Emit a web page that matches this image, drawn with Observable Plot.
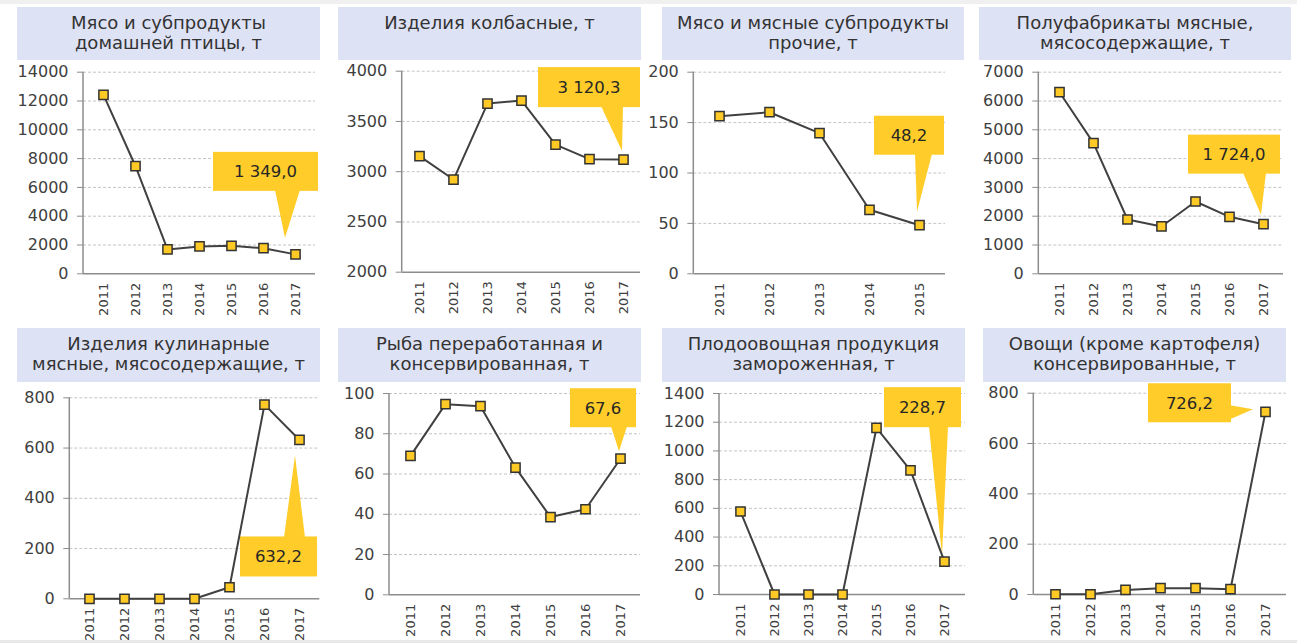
<!DOCTYPE html>
<html><head><meta charset="utf-8">
<script src="https://cdn.jsdelivr.net/npm/d3@7"></script>
<script src="https://cdn.jsdelivr.net/npm/@observablehq/plot@0.6"></script>
<style>
html,body{margin:0;padding:0;background:#fff;}
#root{position:relative;width:1297px;height:643px;overflow:hidden;background:#fff;font-family:"DejaVu Sans",sans-serif;}
.title{position:absolute;background:#dee2f5;color:#333;text-align:center;font-size:18px;line-height:20px;padding-top:6px;box-sizing:border-box;white-space:nowrap;}
.panel{position:absolute;overflow:visible;}
#root svg{overflow:visible;}
#root svg text{fill:#404040;}
#root svg text.callout{fill:#262626;}
</style></head><body><div id="root"></div>
<script>
// ---- data ----
const years7 = ["2011","2012","2013","2014","2015","2016","2017"];
const years5 = ["2011","2012","2013","2014","2015"];

const poultry      = [12430, 7470, 1690, 1900, 1940, 1780, 1349.0];
const sausages     = [3155, 2922, 3678, 3708, 3270, 3125, 3120.3];
const otherMeat    = [156.4, 160.3, 139.5, 63.5, 48.2];
const semiFinished = [6306, 4536, 1886, 1643, 2511, 1979, 1724.0];
const culinary     = [0, 0, 0, 0, 46, 773, 632.2];
const fish         = [69.0, 94.7, 93.7, 63.2, 38.6, 42.5, 67.6];
const frozenVeg    = [578, 0, 0, 0, 1161, 864, 228.7];
const vegCanned    = [1, 1, 18, 25, 25, 21, 726.2];

const ticksPoultry  = [0, 2000, 4000, 6000, 8000, 10000, 12000, 14000];
const ticksSausages = [2000, 2500, 3000, 3500, 4000];
const ticksOther    = [0, 50, 100, 150, 200];
const ticksSemi     = [0, 1000, 2000, 3000, 4000, 5000, 6000, 7000];
const ticksCulinary = [0, 200, 400, 600, 800];
const ticksFish     = [0, 20, 40, 60, 80, 100];
const ticksFrozen   = [0, 200, 400, 600, 800, 1000, 1200, 1400];
const ticksVeg      = [0, 200, 400, 600, 800];

const titles = [
  ["Мясо и субпродукты", "домашней птицы, т"],
  ["Изделия колбасные, т"],
  ["Мясо и мясные субпродукты", "прочие, т"],
  ["Полуфабрикаты мясные,", "мясосодержащие, т"],
  ["Изделия кулинарные", "мясные, мясосодержащие, т"],
  ["Рыба переработанная и", "консервированная, т"],
  ["Плодоовощная продукция", "замороженная, т"],
  ["Овощи (кроме картофеля)", "консервированные, т"]
];
const calloutLabels = ["1 349,0", "3 120,3", "48,2", "1 724,0", "632,2", "67,6", "228,7", "726,2"];

// ---- layout / style (pixels) ----
const series = [
  {years: years7, values: poultry,      ticks: ticksPoultry},
  {years: years7, values: sausages,     ticks: ticksSausages},
  {years: years5, values: otherMeat,    ticks: ticksOther},
  {years: years7, values: semiFinished, ticks: ticksSemi},
  {years: years7, values: culinary,     ticks: ticksCulinary},
  {years: years7, values: fish,         ticks: ticksFish},
  {years: years7, values: frozenVeg,    ticks: ticksFrozen},
  {years: years7, values: vegCanned,    ticks: ticksVeg}
];
const titleBoxes = [
  {l:17, t:7, w:303, h:53}, {l:338, t:7, w:303, h:53}, {l:662, t:7, w:302, h:53}, {l:979, t:7, w:312, h:53},
  {l:17, t:328, w:303, h:54}, {l:338, t:328, w:303, h:54}, {l:662, t:328, w:303, h:54}, {l:983, t:328, w:303, h:54}
];
const frames = [
  {l:83, r:315, t:71.7, b:273.3, pad:0.56}, {l:401.7, r:640, t:70.7, b:271.7, pad:0.48},
  {l:693.3, r:945, t:71.7, b:273.3, pad:0.5}, {l:1038.3, r:1283, t:71.7, b:273.3, pad:0.56},
  {l:69.3, r:319.3, t:397.3, b:598.3, pad:0.5}, {l:389, r:640, t:393, b:594.3, pad:0.5},
  {l:719, r:965, t:393, b:594, pad:0.6}, {l:1033.3, r:1286, t:392.7, b:594, pad:0.54}
];
const cols = [[0,325],[325,325],[650,325],[975,322]];
const rows = [[62,262],[380,263]];
const callGeo = [
  {bx:[-82,23], by:[-102,-63], side:"bottom", base:[-20,5], tip:[-10,-16]},
  {bx:[-85,17], by:[-92,-52], side:"bottom", base:[-22,0], tip:[-1,-8]},
  {bx:[-45,25], by:[-109,-70], side:"bottom", base:[-4,13], tip:[-2,-13]},
  {bx:[-75,17], by:[-89,-50], side:"bottom", base:[-20,3], tip:[-2,-9]},
  {bx:[-59,18], by:[97,137], side:"top", base:[-15,6], tip:[-4,16]},
  {bx:[-50,16], by:[-70,-31], side:"bottom", base:[-9,7], tip:[-1,-7]},
  {bx:[-60,17], by:[-174,-134], side:"bottom", base:[-15,4], tip:[-2,-6]},
  {bx:[-117,-34], by:[-28,11], side:"right", base:[-6,8], tip:[-12,-2]}
];
const YELLOW = "#ffcc29";

function leftAxisLine() {
  return (index, scales, values, dims) => {
    const g = d3.create("svg:g");
    g.append("line")
      .attr("x1", dims.marginLeft).attr("x2", dims.marginLeft)
      .attr("y1", dims.marginTop).attr("y2", dims.height - dims.marginBottom)
      .attr("stroke", "#8c8c8c").attr("stroke-width", 1.5);
    return g.node();
  };
}

function callout(years, vals, label, geo) {
  return (index, scales) => {
    const px = scales.x(years[years.length - 1]);
    const py = scales.y(vals[vals.length - 1]);
    const g = d3.create("svg:g");
    const x0 = px + geo.bx[0], x1 = px + geo.bx[1], y0 = py + geo.by[0], y1 = py + geo.by[1];
    g.append("rect").attr("x", x0).attr("y", y0).attr("width", x1 - x0).attr("height", y1 - y0).attr("fill", YELLOW);
    let pts;
    if (geo.side === "bottom") pts = [[px + geo.base[0], y1 - 1], [px + geo.base[1], y1 - 1], [px + geo.tip[0], py + geo.tip[1]]];
    else if (geo.side === "top") pts = [[px + geo.base[0], y0 + 1], [px + geo.base[1], y0 + 1], [px + geo.tip[0], py + geo.tip[1]]];
    else pts = [[x1 - 1, py + geo.base[0]], [x1 - 1, py + geo.base[1]], [px + geo.tip[0], py + geo.tip[1]]];
    g.append("path").attr("d", "M" + pts.map(p => p.join(",")).join("L") + "Z").attr("fill", YELLOW);
    g.append("text").attr("class", "callout")
      .attr("x", (x0 + x1) / 2).attr("y", (y0 + y1) / 2).attr("dy", "0.36em")
      .attr("text-anchor", "middle").attr("font-size", "16.5px").attr("font-family", "DejaVu Sans")
      .text(label);
    return g.node();
  };
}

const root = document.getElementById("root");
const topBand = document.createElement("div");
topBand.style.cssText = "position:absolute;left:0;top:0;width:1297px;height:4px;background:#f0f0f0;";
root.appendChild(topBand);
const botBand = document.createElement("div");
botBand.style.cssText = "position:absolute;left:0;top:640px;width:1297px;height:3px;background:#e8e8e8;";
root.appendChild(botBand);

series.forEach((s, i) => {
  const tb = titleBoxes[i];
  const tdiv = document.createElement("div");
  tdiv.className = "title";
  tdiv.style.left = tb.l + "px"; tdiv.style.top = tb.t + "px";
  tdiv.style.width = tb.w + "px"; tdiv.style.height = tb.h + "px";
  tdiv.innerHTML = titles[i].join("<br>");
  root.appendChild(tdiv);

  const [cx, cw] = cols[i % 4];
  const [ry, rh] = rows[Math.floor(i / 4)];
  const f = frames[i];
  const data = s.years.map((y, k) => ({year: y, value: s.values[k]}));
  const yMin = s.ticks[0], yMax = s.ticks[s.ticks.length - 1];

  const chart = Plot.plot({
    width: cw, height: rh,
    marginLeft: f.l - cx, marginRight: cx + cw - f.r,
    marginTop: f.t - ry, marginBottom: ry + rh - f.b,
    style: {fontFamily: "DejaVu Sans", fontSize: "16px", color: "#8c8c8c", background: "transparent", overflow: "visible"},
    x: {type: "point", domain: s.years, padding: f.pad, tickRotate: -90, tickSize: 0, tickPadding: 9, label: null},
    y: {domain: [yMin, yMax], ticks: s.ticks, tickSize: 6, tickPadding: 9, label: null, tickFormat: d => String(d)},
    marks: [
      Plot.ruleY(s.ticks.filter(t => t > yMin), {stroke: "#c4c4c4", strokeDasharray: "3,2", strokeWidth: 1}),
      Plot.ruleY([yMin], {stroke: "#8c8c8c", strokeWidth: 1.5}),
      leftAxisLine(),
      callout(s.years, s.values, calloutLabels[i], callGeo[i]),
      Plot.line(data, {x: "year", y: "value", stroke: "#404040", strokeWidth: 2}),
      Plot.dot(data, {x: "year", y: "value", symbol: "square", r: 5.2, fill: "#ffc926", stroke: "#333", strokeWidth: 1.5})
    ]
  });
  d3.select(chart).selectAll('[aria-label^="x-axis"] text').attr("font-size", "13px").style("font-size", "13px");
  chart.classList.add("panel");
  chart.style.left = cx + "px";
  chart.style.top = ry + "px";
  chart.style.position = "absolute";
  root.appendChild(chart);
});
</script></body></html>
